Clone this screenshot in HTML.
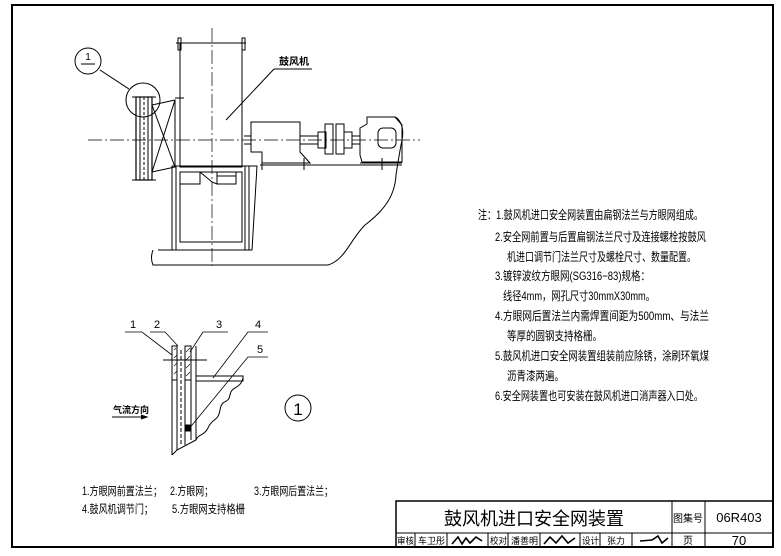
<!DOCTYPE html>
<html><head><meta charset="utf-8"><style>
html,body{margin:0;padding:0;background:#fff;}
svg{display:block;font-family:"Liberation Sans","Noto Sans CJK SC",sans-serif;}
</style></head><body>
<svg width="781" height="556" viewBox="0 0 781 556" xmlns="http://www.w3.org/2000/svg">
<g fill="none" stroke="#000" stroke-width="1">
<rect x="12" y="5" width="761" height="542" stroke-width="2"/>
<rect x="396" y="501" width="377" height="46" stroke-width="1.5"/>
<line x1="396" y1="533" x2="773" y2="533"/>
<line x1="672" y1="501" x2="672" y2="547"/>
<line x1="705" y1="501" x2="705" y2="547"/>
<line x1="415" y1="533" x2="415" y2="547"/>
<line x1="447" y1="533" x2="447" y2="547"/>
<line x1="488" y1="533" x2="488" y2="547"/>
<line x1="508" y1="533" x2="508" y2="547"/>
<line x1="540" y1="533" x2="540" y2="547"/>
<line x1="580" y1="533" x2="580" y2="547"/>
<line x1="600" y1="533" x2="600" y2="547"/>
<line x1="632" y1="533" x2="632" y2="547"/>

<line x1="212" y1="28" x2="212" y2="266" stroke-dasharray="14,3,2,3" stroke-width="0.7"/>
<line x1="88" y1="140" x2="420" y2="140" stroke-dasharray="14,3,2,3" stroke-width="0.7"/>
<rect x="180" y="43" width="62" height="124"/>
<rect x="178" y="38" width="3" height="12"/><rect x="242" y="38" width="3" height="12"/>
<line x1="176" y1="43" x2="184" y2="43"/><line x1="238" y1="43" x2="246" y2="43"/>
<line x1="176" y1="98" x2="184" y2="98"/>
<rect x="136" y="97" width="16" height="83" stroke-width="1.2"/>
<line x1="140" y1="97" x2="140" y2="180"/><line x1="144" y1="97" x2="144" y2="180" stroke-dasharray="3,2"/><line x1="148" y1="97" x2="148" y2="180"/>
<line x1="132" y1="97" x2="156" y2="97"/><line x1="132" y1="180" x2="156" y2="180"/>
<path d="M152 105 L175 100 L175 167 L152 172 M152 105 L175 167 M152 172 L175 100"/>
<line x1="175" y1="98" x2="180" y2="98"/>
<circle cx="143" cy="100" r="17"/>
<circle cx="88" cy="61" r="13"/>
<line x1="81" y1="64" x2="95" y2="64"/>
<line x1="100" y1="70" x2="129" y2="89"/>
<line x1="274" y1="69" x2="312" y2="69"/>
<line x1="274" y1="69" x2="226" y2="120"/>
<rect x="172" y="166" width="77" height="84"/>
<rect x="180" y="172" width="62" height="70"/>
<line x1="176" y1="166" x2="176" y2="250"/><line x1="245" y1="166" x2="245" y2="250"/>
<rect x="180" y="172" width="20" height="12"/>
<path d="M200 172 L212 182 L217 184 L217 172 M217 176 L236 176 M217 184 L236 184 L236 172"/>
<path d="M249 166 L257 166 L252 250 L249 250"/>
<path d="M158 250 L252 250 M153 250 Q150 258 153 265 L328 265 C345 260 350 240 365 225 C385 210 395 195 396 175 C398 162 400 150 402 140 C405 125 398 118 395 117"/>
<path d="M251 122 L300 122 L300 152 L310 163 L262 163 L262 152 L251 152 Z"/>
<line x1="244" y1="136" x2="251" y2="136"/><line x1="244" y1="144" x2="251" y2="144"/>
<line x1="260" y1="165" x2="402" y2="165"/>
<line x1="262" y1="158" x2="262" y2="170"/><line x1="304" y1="158" x2="304" y2="170"/>
<rect x="300" y="136" width="18" height="8"/>
<rect x="318" y="132" width="8" height="16"/>
<rect x="325" y="124" width="8" height="30"/><rect x="336" y="124" width="8" height="30"/>
<rect x="344" y="132" width="8" height="16"/><rect x="352" y="136" width="8" height="8"/>
<path d="M360 128 L367 124 L367 117 L395 117 L402 125 L402 162 L362 162 L360 155 Z"/>
<rect x="378" y="128" width="18" height="20" rx="5"/>
<line x1="360" y1="163" x2="402" y2="163"/>
<line x1="382" y1="158" x2="382" y2="170"/>

<path d="M125 332 L142 332 L172 355 M150 332 L165 332 L178 346 M228 332 L203 332 L190 352 M268 332 L248 332 L213 378 M268 357 L248 357 L188 430" stroke-width="0.8"/>
<line x1="172" y1="346" x2="172" y2="455"/>
<rect x="172" y="346" width="5" height="34"/>
<rect x="185" y="346" width="6" height="34"/>
<line x1="177" y1="380" x2="177" y2="450"/>
<line x1="181" y1="350" x2="181" y2="445" stroke-dasharray="4,2"/>
<line x1="185" y1="380" x2="185" y2="445"/>
<line x1="191" y1="380" x2="191" y2="440"/>
<line x1="196" y1="346" x2="196" y2="440"/>
<rect x="185" y="425" width="6" height="6" fill="#000"/>
<line x1="163" y1="360" x2="207" y2="360"/>
<path d="M174 350 L176 348 M174 358 L177 355 M174 366 L177 363 M174 374 L177 371 M186 352 L190 348 M186 360 L190 356 M186 368 L190 364 M186 376 L190 372" stroke-width="0.6"/>
<rect x="196" y="376" width="47" height="5"/>
<path d="M243 378 C240 390 232 385 230 395 C228 405 222 398 220 410 C218 422 212 418 208 428 C204 436 198 434 196 440 L177 450 L172 455"/>
<circle cx="298" cy="408" r="13"/>
<line x1="112" y1="417" x2="147" y2="417"/>
<path d="M141 415 L147 417 L141 419" fill="#000"/>
</g>
<g fill="#000" font-size="11">
<text x="88" y="60" font-size="10" text-anchor="middle">1</text>
<text x="279" y="65" font-weight="bold" font-size="10">鼓风机</text>
<text x="133" y="328" text-anchor="middle">1</text>
<text x="157" y="328" text-anchor="middle">2</text>
<text x="219" y="328" text-anchor="middle">3</text>
<text x="258" y="328" text-anchor="middle">4</text>
<text x="260" y="353" text-anchor="middle">5</text>
<text x="298" y="415" font-size="17" text-anchor="middle">1</text>
<text x="113" y="413" font-size="9" font-weight="bold">气流方向</text>
<g font-size="11.5">
<text x="82" y="495" textLength="80" lengthAdjust="spacingAndGlyphs">1.方眼网前置法兰；</text>
<text x="170" y="495" textLength="43" lengthAdjust="spacingAndGlyphs">2.方眼网；</text>
<text x="254" y="495" textLength="79" lengthAdjust="spacingAndGlyphs">3.方眼网后置法兰；</text>
<text x="82" y="513" textLength="71" lengthAdjust="spacingAndGlyphs">4.鼓风机调节门；</text>
<text x="172" y="513" textLength="73" lengthAdjust="spacingAndGlyphs">5.方眼网支持格栅</text>
</g>
<g font-size="12">
<text x="478" y="219" textLength="225" lengthAdjust="spacingAndGlyphs">注：1.鼓风机进口安全网装置由扁钢法兰与方眼网组成。</text>
<text x="495" y="241" textLength="211" lengthAdjust="spacingAndGlyphs">2.安全网前置与后置扁钢法兰尺寸及连接螺栓按鼓风</text>
<text x="507" y="261" textLength="189" lengthAdjust="spacingAndGlyphs">机进口调节门法兰尺寸及螺栓尺寸、数量配置。</text>
<text x="495" y="280" textLength="155" lengthAdjust="spacingAndGlyphs">3.镀锌波纹方眼网(SG316−83)规格：</text>
<text x="503" y="300" textLength="152" lengthAdjust="spacingAndGlyphs">线径4mm，网孔尺寸30mmX30mm。</text>
<text x="495" y="320" textLength="214" lengthAdjust="spacingAndGlyphs">4.方眼网后置法兰内需焊置间距为500mm、与法兰</text>
<text x="507" y="340" textLength="95" lengthAdjust="spacingAndGlyphs">等厚的圆钢支持格栅。</text>
<text x="495" y="360" textLength="214" lengthAdjust="spacingAndGlyphs">5.鼓风机进口安全网装置组装前应除锈，涂刷环氧煤</text>
<text x="507" y="380" textLength="57" lengthAdjust="spacingAndGlyphs">沥青漆两遍。</text>
<text x="495" y="400" textLength="208" lengthAdjust="spacingAndGlyphs">6.安全网装置也可安装在鼓风机进口消声器入口处。</text>
</g>
<text x="534" y="525" font-size="18" text-anchor="middle">鼓风机进口安全网装置</text>
<text x="688" y="522" font-size="10" text-anchor="middle">图集号</text>
<text x="739" y="522" font-size="13" text-anchor="middle">06R403</text>
<text x="688" y="544" font-size="10" text-anchor="middle">页</text>
<text x="739" y="545" font-size="13" text-anchor="middle">70</text>
<g font-size="9">
<text x="397" y="544" textLength="17" lengthAdjust="spacingAndGlyphs">审核</text>
<text x="418" y="544" textLength="27" lengthAdjust="spacingAndGlyphs">车卫彤</text>
<text x="490" y="544" textLength="17" lengthAdjust="spacingAndGlyphs">校对</text>
<text x="511" y="544" textLength="27" lengthAdjust="spacingAndGlyphs">潘善明</text>
<text x="582" y="544" textLength="17" lengthAdjust="spacingAndGlyphs">设计</text>
<text x="607" y="544" textLength="18" lengthAdjust="spacingAndGlyphs">张力</text>
</g>
</g>
<g fill="none" stroke="#000" stroke-width="1.6">
<path d="M452 544 L458 537 L462 544 L466 538 L470 543 L476 537 L482 541"/>
<path d="M544 544 L550 537 L556 543 L562 536 L568 543 L575 538"/>
<path d="M640 541 L652 540 L658 536 L662 543 L668 538"/>
</g>
</svg>
</body></html>
